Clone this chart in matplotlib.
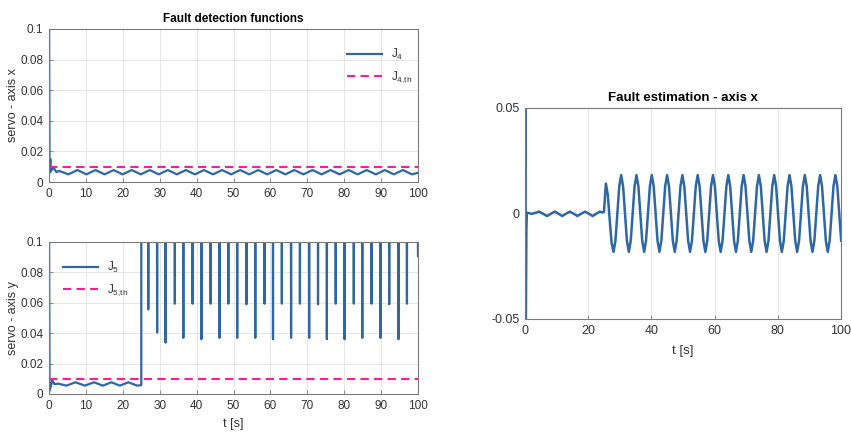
import numpy as np
import matplotlib
matplotlib.use("Agg")
import matplotlib.pyplot as plt

plt.rcParams['font.family'] = ['Liberation Sans', 'DejaVu Sans']
plt.rcParams['mathtext.default'] = 'regular'

# ---- data ----
# J4 (servo - axis x): initial transient, then small ripple
j4_t = [0, 0.15, 0.35, 0.5, 1.2, 2.0, 2.8, 5.25, 7.7, 10.15, 12.6, 15.05, 17.5, 19.95,
        22.4, 24.85, 27.3, 29.75, 32.2, 34.65, 37.1, 39.55, 42.0, 44.45, 46.9, 49.35,
        51.8, 54.25, 56.7, 59.15, 61.6, 64.05, 66.5, 68.95, 71.4, 73.85, 76.3, 78.75,
        81.2, 83.65, 86.1, 88.55, 91.0, 93.45, 95.9, 98.35, 100]
j4_v = [0.12, 0.006, 0.015, 0.007, 0.0095, 0.0065, 0.0072, 0.005, 0.0078, 0.005, 0.0078,
        0.005, 0.0078, 0.005, 0.0078, 0.005, 0.0078, 0.005, 0.0078, 0.005, 0.0078, 0.005,
        0.0078, 0.005, 0.0078, 0.005, 0.0078, 0.005, 0.0078, 0.005, 0.0078, 0.005, 0.0078,
        0.005, 0.0078, 0.005, 0.0078, 0.005, 0.0078, 0.005, 0.0078, 0.005, 0.0078, 0.005,
        0.0078, 0.005, 0.006]
j4_th = 0.01

# J5 (servo - axis y): ripple before the fault at t = 25 s
j5_pre_t = [0, 0.15, 0.9, 1.5, 2.5, 4.7, 7.2, 9.7, 12.2, 14.6, 16.9, 19.2, 21.5, 23.9, 25.0]
j5_pre_v = [0.12, 0.002, 0.009, 0.0065, 0.0068, 0.0055, 0.0077, 0.0055, 0.0077, 0.0055,
            0.0077, 0.0055, 0.0077, 0.0055, 0.0058]
# after the fault J5 stays above the plotted range except for short dips
dip_t = [26.9, 29.3, 31.6, 34.1, 36.4, 38.9, 41.3, 43.8, 46.2, 48.6, 51.0, 53.5, 55.9,
         58.4, 60.7, 63.1, 65.6, 68.0, 70.5, 72.9, 75.3, 77.7, 80.1, 82.6, 84.9, 87.4,
         89.8, 92.2, 94.7, 97.0]
dip_v = [0.0557, 0.0404, 0.0338, 0.0594, 0.0369, 0.0594, 0.036, 0.0594, 0.0369, 0.0594,
         0.0369, 0.059, 0.0369, 0.0594, 0.036, 0.0594, 0.0369, 0.0594, 0.0369, 0.059,
         0.036, 0.0594, 0.036, 0.0594, 0.0369, 0.0594, 0.0369, 0.059, 0.036, 0.0594]
j5_high = 0.15
j5_end_t = [99.75, 100]
j5_end_v = [j5_high, 0.0906]
j5_th = 0.01

# fault estimate, axis x
est_pre_t = [0, 0.08, 0.2, 0.35, 0.45, 0.6, 1.2, 2.1, 3.3, 4.5, 5.7, 7.0, 8.2, 9.5, 10.6,
             11.8, 13.0, 14.2, 15.4, 16.6, 17.8, 19.0, 20.2, 21.4, 22.6, 23.7, 24.5, 25.0]
est_pre_v = [0, 0.07, -0.07, -0.03, -0.007, 0.0004, 0.0002, -0.0002, 0.0003, 0.0009,
             -0.0001, -0.0012, -0.0001, 0.0009, -0.0001, -0.0012, -0.0001, 0.0009, -0.0001,
             -0.0012, -0.0001, 0.0009, -0.0001, -0.0012, -0.0001, 0.0009, 0.0005, 0.0008]
# samples every 0.6054 s from 25.6 s (first crest) to the end
est_t = np.linspace(25.6, 100.06, 124)
est_v = [0.0142, 0.009, -0.003, -0.014,
         -0.0182, -0.0129, 0.0, 0.0129, 0.0182, 0.0129, 0.0, -0.0129,
         -0.0182, -0.0129, 0.0, 0.0129, 0.0182, 0.0129, 0.0, -0.0129,
         -0.0182, -0.0129, 0.0, 0.0129, 0.0182, 0.0129, 0.0, -0.0129,
         -0.0182, -0.0129, 0.0, 0.0129, 0.0182, 0.0129, 0.0, -0.0129,
         -0.0182, -0.0129, 0.0, 0.0129, 0.0182, 0.0129, 0.0, -0.0129,
         -0.0182, -0.0129, 0.0, 0.0129, 0.0182, 0.0129, 0.0, -0.0129,
         -0.0182, -0.0129, 0.0, 0.0129, 0.0182, 0.0129, 0.0, -0.0129,
         -0.0182, -0.0129, 0.0, 0.0129, 0.0182, 0.0129, 0.0, -0.0129,
         -0.0182, -0.0129, 0.0, 0.0129, 0.0182, 0.0129, 0.0, -0.0129,
         -0.0182, -0.0129, 0.0, 0.0129, 0.0182, 0.0129, 0.0, -0.0129,
         -0.0182, -0.0129, 0.0, 0.0129, 0.0182, 0.0129, 0.0, -0.0129,
         -0.0182, -0.0129, 0.0, 0.0129, 0.0182, 0.0129, 0.0, -0.0129,
         -0.0182, -0.0129, 0.0, 0.0129, 0.0182, 0.0129, 0.0, -0.0129,
         -0.0182, -0.0129, 0.0, 0.0129, 0.0182, 0.0129, 0.0, -0.0129,
         -0.0182, -0.0129, 0.0, 0.0129, 0.0182, 0.0129, 0.0, -0.0129]

# build J5 trace
j5_t = list(j5_pre_t) + [25.02]
j5_v = list(j5_pre_v) + [j5_high]
for td, vd in zip(dip_t, dip_v):
    j5_t += [td - 0.06, td, td + 0.06]
    j5_v += [j5_high, vd, j5_high]
j5_t += j5_end_t
j5_v += j5_end_v

est_all_t = list(est_pre_t) + list(est_t)
est_all_v = list(est_pre_v) + list(est_v)

blue = '#2e67a3'
pink = '#ff1a9c'
txt = '#333333'
fs = 8.5


def style(ax):
    ax.grid(True, color='#e6e6e6', lw=0.7)
    ax.set_axisbelow(True)
    for s in ax.spines.values():
        s.set_color('#7a7a7a')
        s.set_linewidth(0.8)
    ax.tick_params(direction='in', length=3, width=0.6, colors='#7a7a7a',
                   labelcolor=txt, labelsize=fs, pad=4)


fig = plt.figure(figsize=(8.51, 4.32), dpi=100)
ax1 = fig.add_axes([0.0576, 0.5787, 0.4336, 0.3542])
ax2 = fig.add_axes([0.0576, 0.0880, 0.4336, 0.3519])
ax3 = fig.add_axes([0.6169, 0.2616, 0.3713, 0.4884])

# top left
ax1.plot(j4_t, j4_v, color=blue, lw=1.6, label='J$_4$')
ax1.plot([0, 100], [j4_th, j4_th], color=pink, lw=1.5, ls=(0, (4, 2.5)), label='J$_{4{,}th}$')
ax1.set_xlim(0, 100)
ax1.set_ylim(0, 0.1)
ax1.set_xticks(np.arange(0, 101, 10))
ax1.set_yticks([0, 0.02, 0.04, 0.06, 0.08, 0.1])
ax1.set_yticklabels(['0', '0.02', '0.04', '0.06', '0.08', '0.1'])
ax1.set_ylabel('servo - axis x', fontsize=9, color=txt, labelpad=1)
ax1.set_title('Fault detection functions', fontsize=8.5, fontweight='bold', color='black', pad=5)
style(ax1)
ax1.legend(loc='upper left', bbox_to_anchor=(0.78, 0.95), frameon=False, fontsize=fs,
           handlelength=2.9, labelspacing=0.6, labelcolor=txt)

# bottom left
ax2.plot(j5_t, j5_v, color=blue, lw=1.6, label='J$_5$')
ax2.plot([0, 100], [j5_th, j5_th], color=pink, lw=1.5, ls=(0, (4, 2.5)), label='J$_{5{,}th}$')
ax2.set_xlim(0, 100)
ax2.set_ylim(0, 0.1)
ax2.set_xticks(np.arange(0, 101, 10))
ax2.set_yticks([0, 0.02, 0.04, 0.06, 0.08, 0.1])
ax2.set_yticklabels(['0', '0.02', '0.04', '0.06', '0.08', '0.1'])
ax2.set_ylabel('servo - axis y', fontsize=9, color=txt, labelpad=1)
ax2.set_xlabel('t [s]', fontsize=9, color=txt, labelpad=5)
style(ax2)
ax2.legend(loc='upper left', bbox_to_anchor=(0.01, 0.95), frameon=False, fontsize=fs,
           handlelength=2.9, labelspacing=0.6, labelcolor=txt)

# right
ax3.plot(est_all_t, est_all_v, color=blue, lw=1.8)
ax3.set_xlim(0, 100)
ax3.set_ylim(-0.05, 0.05)
ax3.set_xticks(np.arange(0, 101, 20))
ax3.set_yticks([-0.05, 0, 0.05])
ax3.set_yticklabels(['-0.05', '0', '0.05'])
ax3.set_xlabel('t [s]', fontsize=9.5, color=txt, labelpad=6)
ax3.set_title('Fault estimation - axis x', fontsize=9.5, fontweight='bold', color='black', pad=5)
style(ax3)
ax3.tick_params(labelsize=9)

fig.savefig('out.png', dpi=100)
